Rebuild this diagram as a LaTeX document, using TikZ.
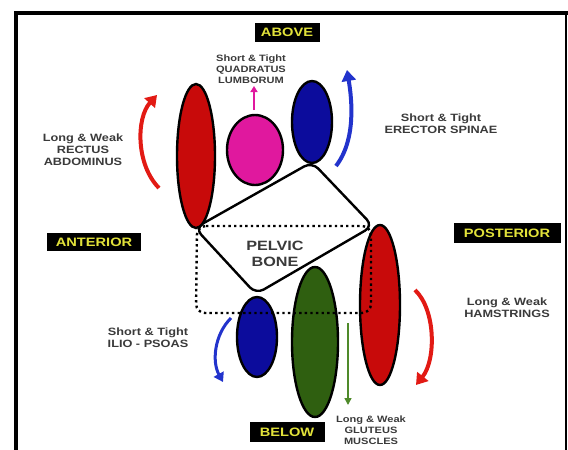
\documentclass[tikz,border=0pt]{standalone}
\usepackage{fontspec}
\usetikzlibrary{shapes.geometric,arrows.meta}
\newfontfamily\wsans{Liberation Sans}[FakeStretch=1.2]
\definecolor{txtgray}{HTML}{3A3A3A}
\definecolor{labyel}{HTML}{E2E23A}
\definecolor{mred}{HTML}{C80A0A}
\definecolor{mpink}{HTML}{E0189E}
\definecolor{mblue}{HTML}{0C0C9C}
\definecolor{mgreen}{HTML}{2F5F10}
\definecolor{ared}{HTML}{E21A14}
\definecolor{ablue}{HTML}{2233CC}
\definecolor{agreen}{HTML}{4F8A2A}
\tikzset{
  bodytxt/.style={align=center, inner sep=0pt, text=txtgray,
    font=\wsans\bfseries\fontsize{10.6}{12}\selectfont},
  smalltxt/.style={align=center, inner sep=0pt, text=txtgray,
    font=\wsans\bfseries\fontsize{9.2}{11}\selectfont},
  bonetxt/.style={align=center, inner sep=0pt, text=txtgray,
    font=\wsans\bfseries\fontsize{13.5}{16}\selectfont},
  labbox/.style={fill=black, text=labyel, inner sep=0pt, minimum height=19pt,
    font=\wsans\bfseries\fontsize{12.2}{14}\selectfont},
  muscle/.style={ellipse, draw=black, line width=2.4pt, inner sep=0pt},
  curvarrow/.style={line width=4pt, -{Triangle[width=14pt,length=11pt]}},
  thinarrow/.style={line width=1.8pt, -{Triangle[width=7pt,length=6pt]}},
}
\begin{document}
\begin{tikzpicture}[x=1pt,y=-1pt]
\useasboundingbox (0,0) rectangle (568,450);
% frame
\draw[line width=4pt] (15.5,450) -- (15.5,13) -- (568,13);
\draw[line width=1.5pt] (566,13) -- (566,450);

% pelvic bone
\coordinate (pbT) at (312,162);
\coordinate (pbR) at (373,226);
\coordinate (pbB) at (256,294);
\coordinate (pbL) at (195,228);
\draw[line width=2.4pt, fill=white, rounded corners=9pt] (pbT) -- (pbR) -- (pbB) -- (pbL) -- cycle;

% muscles
\node[muscle, fill=mred, minimum width=38pt, minimum height=144pt] (rect) at (196,156) {};
\node[muscle, fill=mpink, minimum width=56pt, minimum height=70pt] (quad) at (255,150) {};
\node[muscle, fill=mblue, minimum width=40pt, minimum height=82pt] (erect) at (312,122) {};
\node[muscle, fill=mred, minimum width=40pt, minimum height=160pt] (ham) at (380,305) {};
\node[muscle, fill=mblue, minimum width=40pt, minimum height=80pt] (psoas) at (257,337) {};
\node[muscle, fill=mgreen, minimum width=46pt, minimum height=150pt] (glut) at (315,342) {};

% dotted outline
\draw[line width=2.4pt, dash pattern=on 2.4pt off 3.2pt, rounded corners=9pt]
  (197,226) -- (371,226) -- (371,313) -- (196,313) -- cycle;

\node[bonetxt] (bone) at (275,254) {PELVIC\\BONE};

% labels
\node[labbox, minimum width=65pt] (above) at (287,32) {ABOVE};
\node[labbox, minimum width=94pt, minimum height=18pt] (ant) at (94,242) {ANTERIOR};
\node[labbox, minimum width=107pt, minimum height=20pt] (post) at (507,233) {POSTERIOR};
\node[labbox, minimum width=75pt, minimum height=20pt] (below) at (287,432) {BELOW};

% texts
\node[bodytxt] (tRA) at (83,150) {Long \& Weak\\RECTUS\\ABDOMINUS};
\node[smalltxt] (tQL) at (251,69) {Short \& Tight\\QUADRATUS\\LUMBORUM};
\node[bodytxt] (tES) at (441,124) {Short \& Tight\\ERECTOR SPINAE};
\node[bodytxt] (tHS) at (507,308) {Long \& Weak\\HAMSTRINGS};
\node[bodytxt] (tIP) at (148,338) {Short \& Tight\\ILIO - PSOAS};
\node[smalltxt] (tGM) at (371,430) {Long \& Weak\\GLUTEUS\\MUSCLES};

% arrows
\coordinate (raA) at (159,188); \coordinate (raB) at (157,95);
\draw[curvarrow, ared] (raA) .. controls (136,165) and (136,118) .. (raB);
\coordinate (esA) at (336,166); \coordinate (esB) at (347,70);
\draw[curvarrow, ablue] (esA) .. controls (356,140) and (352,100) .. (esB);
\coordinate (hsA) at (415,290); \coordinate (hsB) at (416,385);
\draw[curvarrow, ared] (hsA) .. controls (436,310) and (436,360) .. (hsB);
\coordinate (ipA) at (231,318); \coordinate (ipB) at (223,382);
\draw[line width=3pt, ablue, -{Triangle[width=11pt,length=9pt]}] (ipA) .. controls (214,335) and (212,362) .. (ipB);
\coordinate (qlA) at (254,110); \coordinate (qlB) at (254,86);
\draw[thinarrow, mpink] (qlA) -- (qlB);
\coordinate (gmA) at (348,323); \coordinate (gmB) at (348,405);
\draw[line width=1.5pt, agreen, -{Triangle[width=7pt,length=7pt]}] (gmA) -- (gmB);
\end{tikzpicture}
\end{document}
